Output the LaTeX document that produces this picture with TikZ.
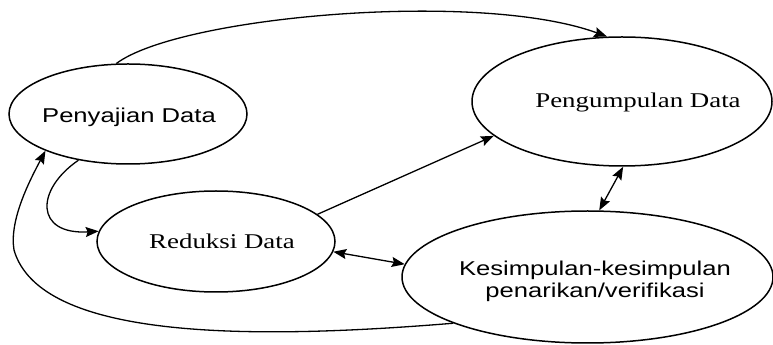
\documentclass[tikz,border=0pt]{standalone}
\usepackage{graphicx}
\usepackage{fontspec}
\usepackage{tikz}
\usetikzlibrary{arrows.meta,shapes.geometric}
\newfontfamily\sansfam{Liberation Sans}
\newfontfamily\seriffam{Liberation Serif}
\newcommand{\wide}[1]{\scalebox{1.28}[1]{#1}}
\tikzset{
  stage/.style={ellipse,draw=black,line width=1.5pt,inner sep=0pt},
  sanslabel/.style={anchor=base,inner sep=0pt,font=\sansfam\fontsize{20}{22}\selectfont},
  seriflabel/.style={anchor=base,inner sep=0pt,font=\seriffam\fontsize{21}{23}\selectfont},
  flowarr/.style={-{Stealth[length=13pt,width=10pt,inset=2pt]},line width=1.3pt},
  botharr/.style={{Stealth[length=13pt,width=10pt,inset=2pt]}-{Stealth[length=13pt,width=10pt,inset=2pt]},line width=1.3pt}
}

\begin{document}
\begin{tikzpicture}[x=1pt,y=1pt]
  \useasboundingbox (0,0) rectangle (773,345);
  % the four stages
  \node[stage,minimum width=238pt,minimum height=100pt] (sajian) at (128,231) {};
  \node[stage,minimum width=300pt,minimum height=129pt] (kumpul) at (622,243.5) {};
  \node[stage,minimum width=238pt,minimum height=101pt] (reduksi) at (216,103.5) {};
  \node[stage,minimum width=371pt,minimum height=132pt] (simpul) at (587.5,68) {};
  \node[sanslabel] (sajian-t) at (129,222) {\wide{Penyajian Data}};
  \node[seriflabel] (kumpul-t) at (638,237) {\wide{Pengumpulan Data}};
  \node[seriflabel] (reduksi-t) at (222,96) {\wide{Reduksi Data}};
  \node[sanslabel] (simpul-t) at (595,69)
    {\wide{\begin{tabular}[t]{@{}c@{}}Kesimpulan-kesimpulan\\penarikan/verifikasi\end{tabular}}};
  % connectors
  \draw[flowarr] (sajian.103) .. controls (180,329) and (480,355) .. (kumpul.103);
  \draw[flowarr] (sajian.223) .. controls (35,155) and (35,110) .. (reduksi.175);
  \draw[flowarr] (simpul.199) .. controls (250,5) and (40,5) .. (14,95)
    .. controls (9,125) and (30,165) .. (sajian.204);
  \draw[flowarr] (reduksi.15) -- (kumpul.195);
  \draw[botharr] (reduksi.-5) -- (simpul.176.5);
  \draw[botharr] (kumpul.-89) -- (simpul.80);
\end{tikzpicture}
\end{document}
